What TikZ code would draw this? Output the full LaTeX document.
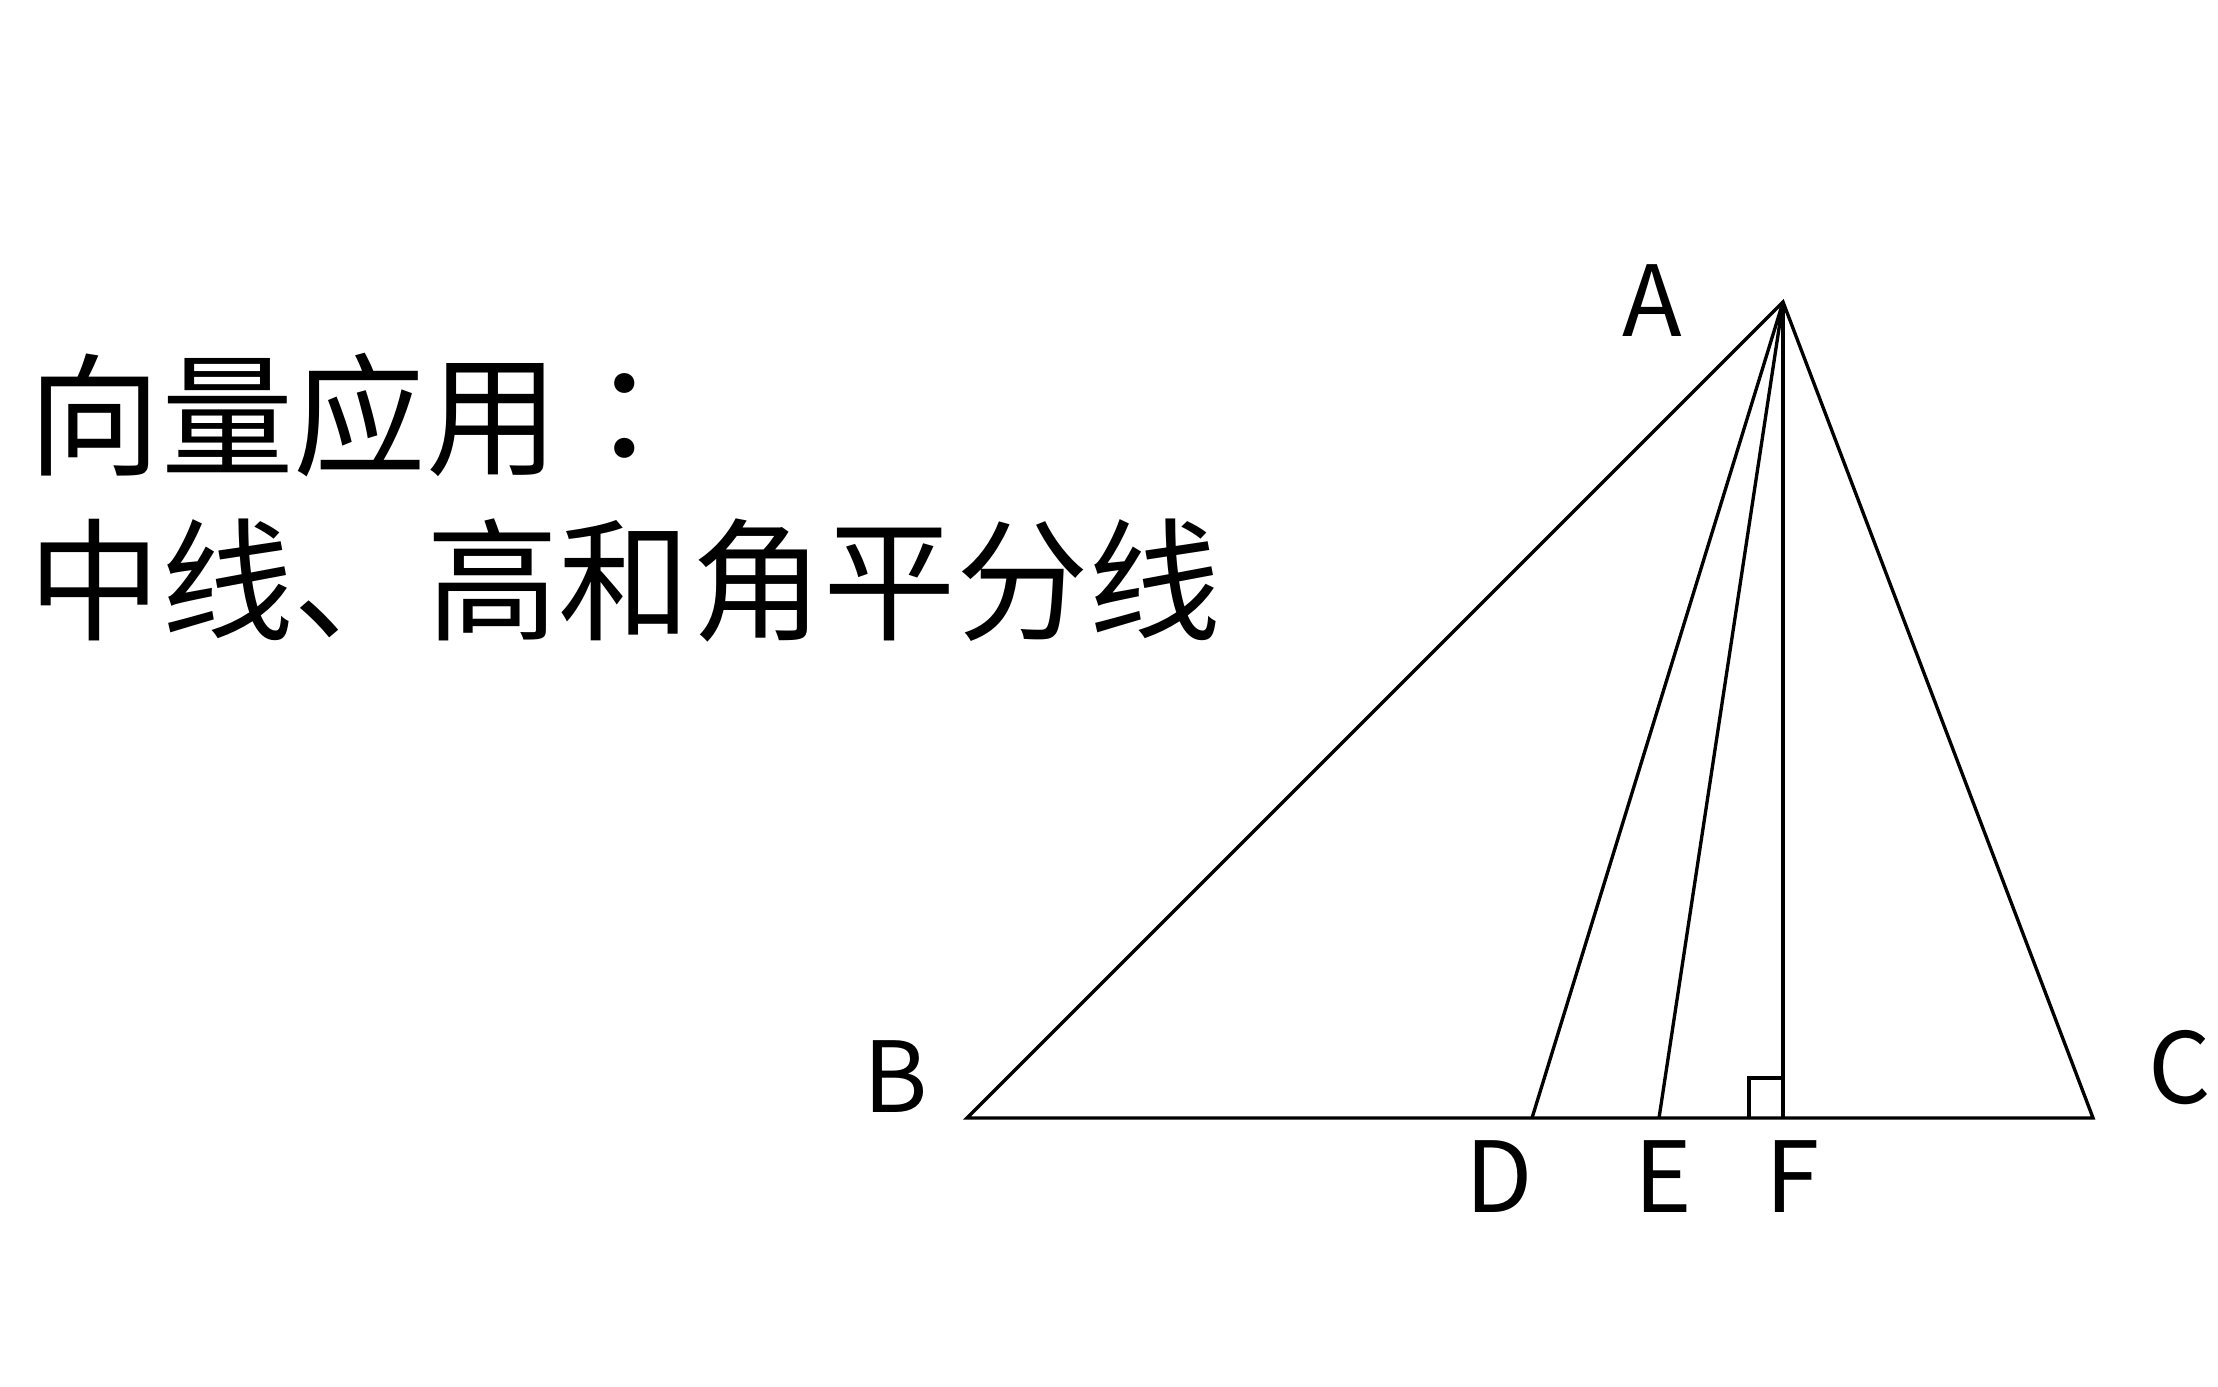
\documentclass[tikz,border=0pt]{standalone}
\usepackage{fontspec}
\setmainfont{Noto Sans CJK SC}
\newfontfamily\colonfont{Noto Sans CJK TC}
\usepackage{tikz, xcolor}
\usetikzlibrary{shapes,arrows}

\begin{document}
\begin{tikzpicture}
\tikzstyle{edgestyle}=[line width=0.95pt, black]
\tikzstyle{ptlabel}=[inner sep=0pt, font=\fontsize{27.9pt}{32pt}\selectfont]
\tikzstyle{titletext}=[inner sep=0pt, anchor=base west, font=\fontsize{37.7pt}{46pt}\selectfont]

\useasboundingbox (0,0) rectangle (22.18,13.86);

\coordinate (A) at (17.83,10.84);
\coordinate (B) at (9.67,2.68);
\coordinate (C) at (20.93,2.68);
\coordinate (D) at (15.32,2.68);
\coordinate (E) at (16.59,2.68);
\coordinate (F) at (17.83,2.68);

\node[titletext] (T1) at (0.28,9.2) {向量应用{\colonfont ：}};
\node[titletext] (T2) at (0.28,7.55) {中线、高和角平分线};

\node[ptlabel] (LA) at (16.52,10.85) {A};
\node[ptlabel] (LB) at (8.96,3.09) {B};
\node[ptlabel] (LC) at (21.80,3.18) {C};
\node[ptlabel] (LD) at (14.99,2.09) {D};
\node[ptlabel] (LE) at (16.63,2.09) {E};
\node[ptlabel] (LF) at (17.93,2.09) {F};

\draw[edgestyle] (A) -- (B) -- (C) -- cycle;
\draw[edgestyle] (A) -- (D);
\draw[edgestyle] (A) -- (E);
\draw[edgestyle] (A) -- (F);
\draw[edgestyle] ([xshift=-0.34cm]F) |- ([yshift=0.40cm]F);
\end{tikzpicture}
\end{document}
